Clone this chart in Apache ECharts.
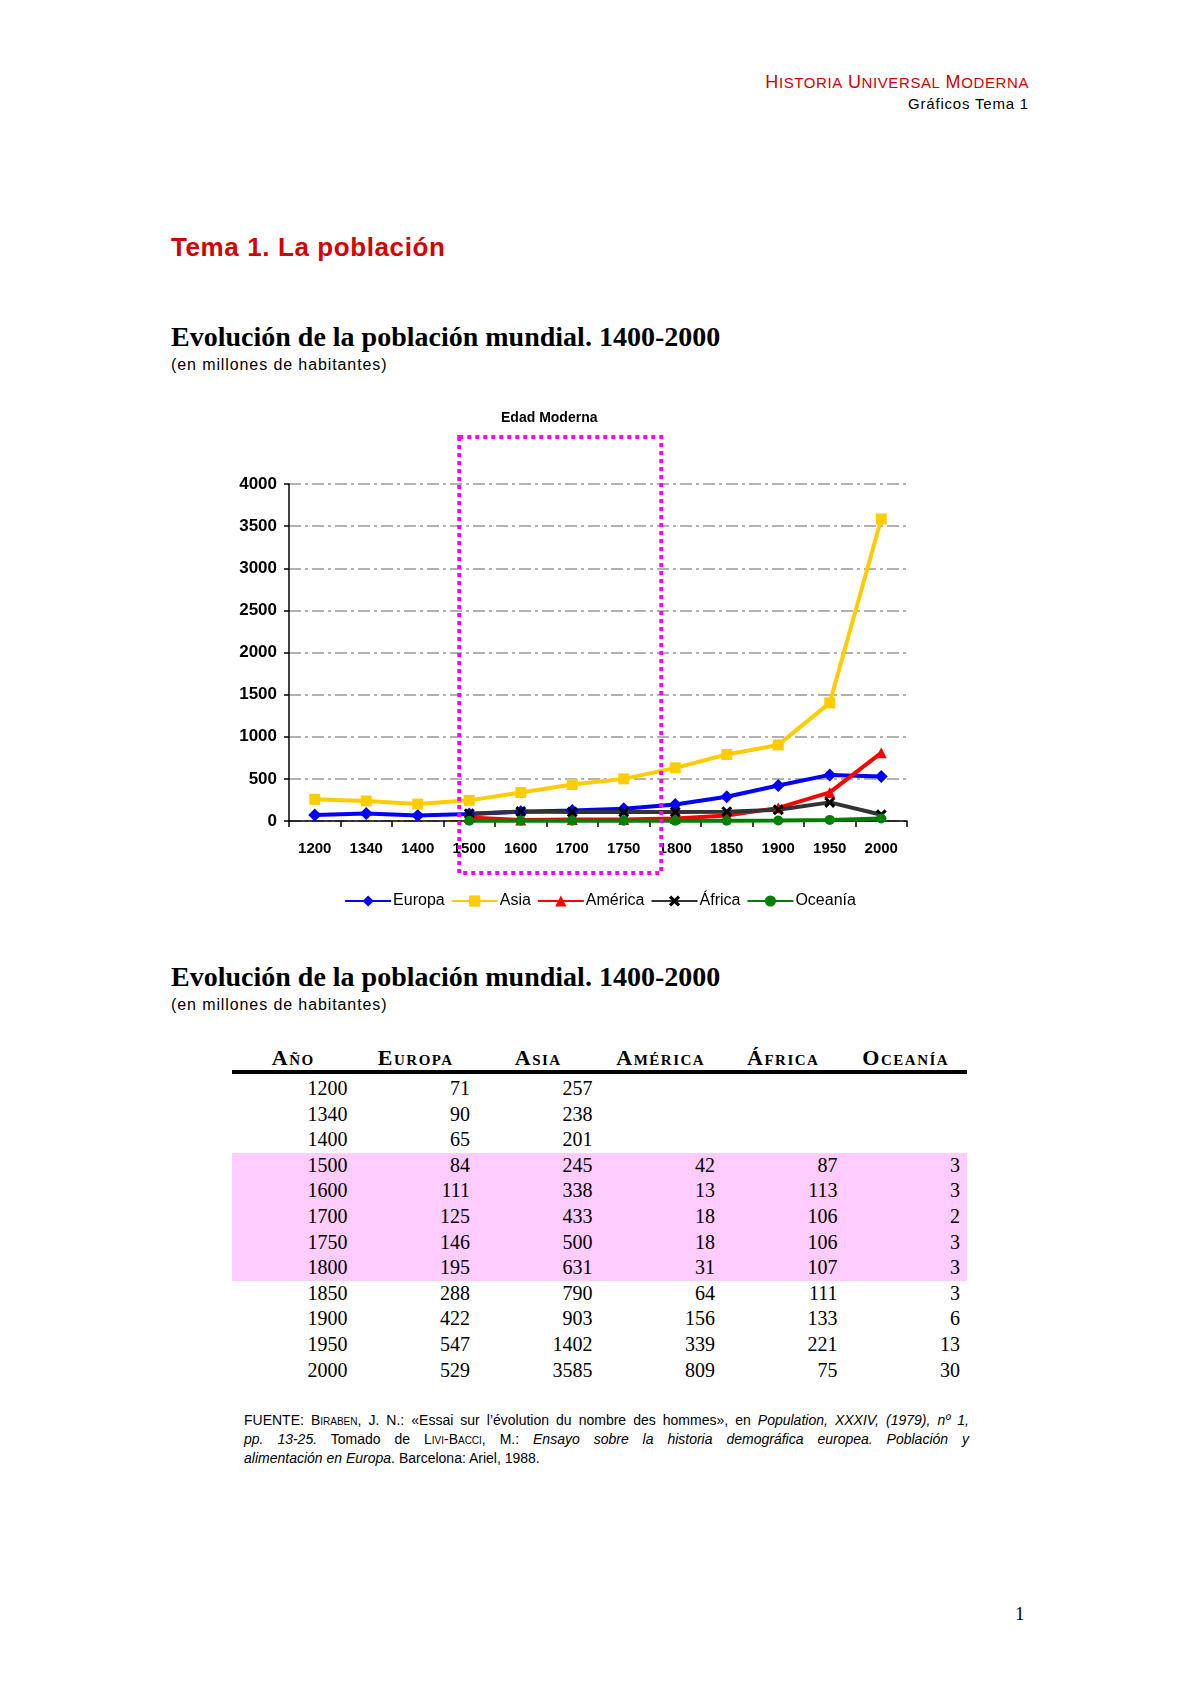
<!DOCTYPE html>
<html>
<head>
<meta charset="utf-8">
<script src="https://cdn.jsdelivr.net/npm/echarts@6/dist/echarts.min.js"></script>
<style>
  body { margin: 0; background: #fff; }
  #page { position: relative; width: 1200px; height: 1698px; overflow: hidden; font-family: "Liberation Sans", Arial, sans-serif; color: #000; }
  .abs { position: absolute; white-space: nowrap; }
  .serif { font-family: "Liberation Serif", "Times New Roman", serif; }
  #chart { position: absolute; left: 0; top: 380px; width: 1200px; height: 560px; }
  .cell { position: absolute; width: 122.5px; box-sizing: border-box; padding-right: 7px; text-align: right; font-size: 20px; line-height: 25.6px; }
  .head { position: absolute; width: 122.5px; text-align: center; font-size: 22px; font-weight: bold; font-variant: small-caps; letter-spacing: 1.5px; line-height: 26px; }
  .foot { position: absolute; left: 244px; width: 725px; font-size: 14px; line-height: 19px; text-align: justify; text-align-last: justify; white-space: nowrap; }
  .sc { font-variant: small-caps; }
  .big { font-size: 18px; }
  .small { font-size: 15px; }
  .sub { font-size: 16px; line-height: 18px; letter-spacing: 0.9px; }
  .title { font-size: 28px; line-height: 32px; font-weight: bold; }
</style>
</head>
<body>
<div id="page">
  <div class="abs" style="right:171px;top:72px;line-height:20px;color:#d40000;letter-spacing:0.6px;"><span class="big">H</span><span class="small">ISTORIA</span> <span class="big">U</span><span class="small">NIVERSAL</span> <span class="big">M</span><span class="small">ODERNA</span></div>
  <div class="abs" style="right:171px;top:95px;font-size:15px;line-height:18px;letter-spacing:0.8px;">Gráficos Tema 1</div>

  <div class="abs" style="left:171px;top:232px;font-size:26px;line-height:30px;font-weight:bold;color:#d40000;letter-spacing:0.6px;">Tema 1. La población</div>

  <div class="abs serif title" style="left:171px;top:321px;">Evolución de la población mundial. 1400-2000</div>
  <div class="abs sub" style="left:171px;top:356px;">(en millones de habitantes)</div>

  <div id="chart"></div>

  <div class="abs serif title" style="left:171px;top:961px;">Evolución de la población mundial. 1400-2000</div>
  <div class="abs sub" style="left:171px;top:996px;">(en millones de habitantes)</div>

  <div id="table" class="serif"></div>

  <div class="foot" style="top:1411px;">FUENTE: <span class="sc">Biraben</span>, J. N.: «Essai sur l’évolution du nombre des hommes», en <i>Population, XXXIV, (1979), nº 1,</i></div>
  <div class="foot" style="top:1430px;"><i>pp. 13-25.</i> Tomado de <span class="sc">Livi-Bacci</span>, M.: <i>Ensayo sobre la historia demográfica europea. Población y</i></div>
  <div class="foot" style="top:1449px;text-align-last:left;"><i>alimentación en Europa</i>. Barcelona: Ariel, 1988.</div>

  <div class="abs serif" style="left:1015px;top:1603px;font-size:19px;line-height:22px;">1</div>
</div>

<script>
  // años y población (millones de habitantes)
  const years = ['1200', '1340', '1400', '1500', '1600', '1700', '1750', '1800', '1850', '1900', '1950', '2000'];
  const europa = [71, 90, 65, 84, 111, 125, 146, 195, 288, 422, 547, 529];
  const asia = [257, 238, 201, 245, 338, 433, 500, 631, 790, 903, 1402, 3585];
  const america = [null, null, null, 42, 13, 18, 18, 31, 64, 156, 339, 809];
  const africa = [null, null, null, 87, 113, 106, 106, 107, 111, 133, 221, 75];
  const oceania = [null, null, null, 3, 3, 2, 3, 3, 3, 6, 13, 30];
  const headers = ['Año', 'Europa', 'Asia', 'América', 'África', 'Oceanía'];
  const yTicks = [0, 500, 1000, 1500, 2000, 2500, 3000, 3500, 4000];
  const modernFrom = '1500';
  const modernTo = '1800';

  // tabla
  const table = document.getElementById('table');
  const TL = 232, COLW = 122.5, ROW0 = 1076, ROWH = 25.6;
  let html = '';
  html += '<div style="position:absolute;left:' + TL + 'px;top:' + (ROW0 + 3 * ROWH) + 'px;width:735px;height:' + (5 * ROWH) + 'px;background:#ffccff;"></div>';
  html += '<div style="position:absolute;left:' + TL + 'px;top:1070px;width:735px;height:4px;background:#000;"></div>';
  headers.forEach((h, c) => {
    html += '<div class="head" style="left:' + (TL + c * COLW) + 'px;top:1045px;">' + h + '</div>';
  });
  const cols = [years, europa, asia, america, africa, oceania];
  years.forEach((y, r) => {
    cols.forEach((col, c) => {
      const v = col[r];
      if (v === null) return;
      html += '<div class="cell" style="left:' + (TL + c * COLW) + 'px;top:' + (ROW0 + r * ROWH) + 'px;">' + v + '</div>';
    });
  });
  table.innerHTML = html;

  // gráfico
  const chart = echarts.init(document.getElementById('chart'));
  const FONT = '"Liberation Sans", Arial, sans-serif';
  const crossPath = 'path://M0,2 L2,0 L5,3 L8,0 L10,2 L7,5 L10,8 L8,10 L5,7 L2,10 L0,8 L3,5 Z';

  function line(name, data, color, symbol, size, lineColor) {
    return {
      name: name,
      type: 'line',
      data: data,
      symbol: symbol,
      symbolSize: size,
      showAllSymbol: true,
      connectNulls: false,
      itemStyle: { color: color },
      lineStyle: { color: lineColor || color, width: 4 },
      emphasis: { disabled: true },
      animation: false
    };
  }

  const option = {
    animation: false,
    textStyle: { fontFamily: FONT },
    grid: { left: 289, top: 104, width: 618, height: 337 },
    legend: {
      top: 513,
      left: 'center',
      padding: 0,
      itemGap: 6,
      itemWidth: 46,
      itemHeight: 14,
      textStyle: { fontSize: 16, color: '#000', fontFamily: FONT, padding: [0, 0, 0, -3] },
      data: ['Europa', 'Asia', 'América', 'África', 'Oceanía']
    },
    xAxis: {
      type: 'category',
      data: years,
      boundaryGap: true,
      axisLine: { lineStyle: { color: '#000', width: 1.5 } },
      axisTick: { show: true, length: 6, lineStyle: { color: '#000', width: 1.5 } },
      axisLabel: { color: '#000', fontSize: 15, fontWeight: 'bold', margin: 20, interval: 0 }
    },
    yAxis: {
      type: 'value',
      min: yTicks[0],
      max: yTicks[yTicks.length - 1],
      interval: 500,
      axisLine: { show: true, lineStyle: { color: '#000', width: 1.5 } },
      axisTick: { show: true, length: 5, lineStyle: { color: '#000', width: 1.5 } },
      axisLabel: { color: '#000', fontSize: 17, fontWeight: 'bold', margin: 12, formatter: v => String(v) },
      splitLine: { lineStyle: { color: '#999', width: 1.5, type: [12, 4, 3, 4] } }
    },
    series: [
      line('Europa', europa, '#0000ff', 'diamond', 13),
      line('Asia', asia, '#ffcc00', 'rect', 11),
      line('América', america, '#ff0000', 'triangle', 11),
      line('África', africa, '#000000', crossPath, 11, '#333333'),
      line('Oceanía', oceania, '#008000', 'circle', 10)
    ]
  };
  chart.setOption(option);

  // recuadro "Edad Moderna"
  const x1 = chart.convertToPixel({ xAxisIndex: 0 }, modernFrom) - 10;
  const x2 = chart.convertToPixel({ xAxisIndex: 0 }, modernTo) - 14;
  chart.setOption({
    graphic: [
      {
        type: 'rect',
        z: 100,
        shape: { x: x1, y: 57, width: x2 - x1, height: 436 },
        style: { fill: null, stroke: '#ff00ff', lineWidth: 4, lineDash: [4, 4] }
      },
      {
        type: 'text',
        x: (x1 + x2) / 2 - 11,
        y: 38,
        style: { text: 'Edad Moderna', font: 'bold 14px ' + FONT, fill: '#000', align: 'center', verticalAlign: 'middle' }
      }
    ]
  });
</script>
</body>
</html>
